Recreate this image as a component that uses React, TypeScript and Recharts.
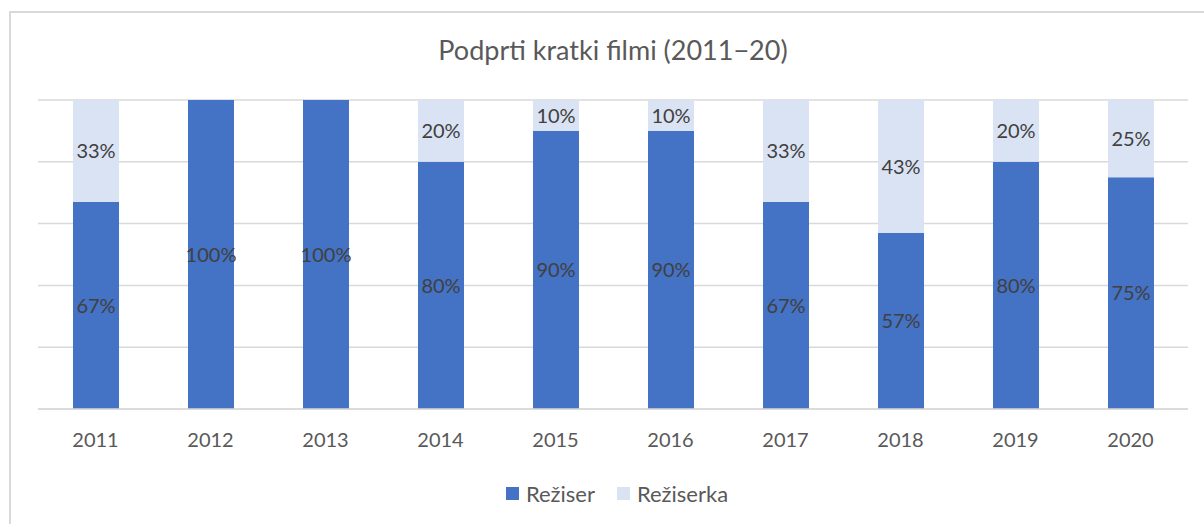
import React from "react";
import { BarChart, Bar, XAxis, YAxis, CartesianGrid, Legend, LabelList } from "recharts";

const years = ["2011", "2012", "2013", "2014", "2015", "2016", "2017", "2018", "2019", "2020"];
const reziser = [67, 100, 100, 80, 90, 90, 67, 57, 80, 75];
const reziserka = [33, 0, 0, 20, 10, 10, 33, 43, 20, 25];
const yTicks = [0, 20, 40, 60, 80, 100];

const data = years.map((y, i) => ({ year: y, reziser: reziser[i], reziserka: reziserka[i] }));

const FONT = "Lato, 'Open Sans', sans-serif";
const fmt = (v: any) => (v ? `${v}%` : "");

const legendItems = [
  { name: "Režiser", color: "#4472c4" },
  { name: "Režiserka", color: "#dae3f3" },
];

const LegendContent = () => (
  <div style={{ display: "flex", justifyContent: "center", fontFamily: FONT, fontSize: 22, color: "#595959", paddingLeft: 30 }}>
    {legendItems.map((it, i) => (
      <div key={it.name} style={{ display: "flex", alignItems: "center", marginLeft: i ? 22 : 0 }}>
        <span style={{ width: 13, height: 13, background: it.color, display: "inline-block", marginRight: 7 }} />
        <span>{it.name}</span>
      </div>
    ))}
  </div>
);

export default function App() {
  return (
    <div style={{ position: "absolute", left: 0, top: 0, width: 1204, height: 524, overflow: "hidden", background: "#fff" }}>
      <div style={{ position: "absolute", left: 9, top: 11, width: 1400, height: 800, border: "2px solid #d9d9d9", boxSizing: "border-box" }} />
      <div style={{ position: "absolute", left: 0, top: 33, width: 1226, textAlign: "center", fontFamily: FONT, fontSize: 27, color: "#595959" }}>
        Podprti kratki filmi (2011−20)
      </div>
      <div style={{ position: "absolute", left: 0, top: 0 }}>
        <BarChart width={1204} height={524} data={data} margin={{ top: 100, right: 16, left: 38, bottom: 55 }}>
          <CartesianGrid vertical={false} stroke="#d9d9d9" strokeWidth={1.5} />
          <YAxis hide domain={[0, 100]} ticks={yTicks} width={0} />
          <XAxis
            dataKey="year"
            height={60}
            axisLine={{ stroke: "#d9d9d9", strokeWidth: 1.5 }}
            tickLine={false}
            tick={{ fontFamily: FONT, fontSize: 20, fill: "#595959" }}
            dy={16}
          />
          <Legend
            layout="horizontal"
            verticalAlign="middle"
            align="center"
            content={<LegendContent />}
            wrapperStyle={{ top: 480, left: 0, width: 1204 }}
          />
          <Bar dataKey="reziser" name="Režiser" stackId="a" fill="#4472c4" barSize={46} isAnimationActive={false}>
            <LabelList dataKey="reziser" position="center" formatter={fmt} style={{ fontFamily: FONT, fontSize: 20, fill: "#404040" }} />
          </Bar>
          <Bar dataKey="reziserka" name="Režiserka" stackId="a" fill="#dae3f3" barSize={46} isAnimationActive={false}>
            <LabelList dataKey="reziserka" position="center" formatter={fmt} style={{ fontFamily: FONT, fontSize: 20, fill: "#404040" }} />
          </Bar>
        </BarChart>
      </div>
    </div>
  );
}
